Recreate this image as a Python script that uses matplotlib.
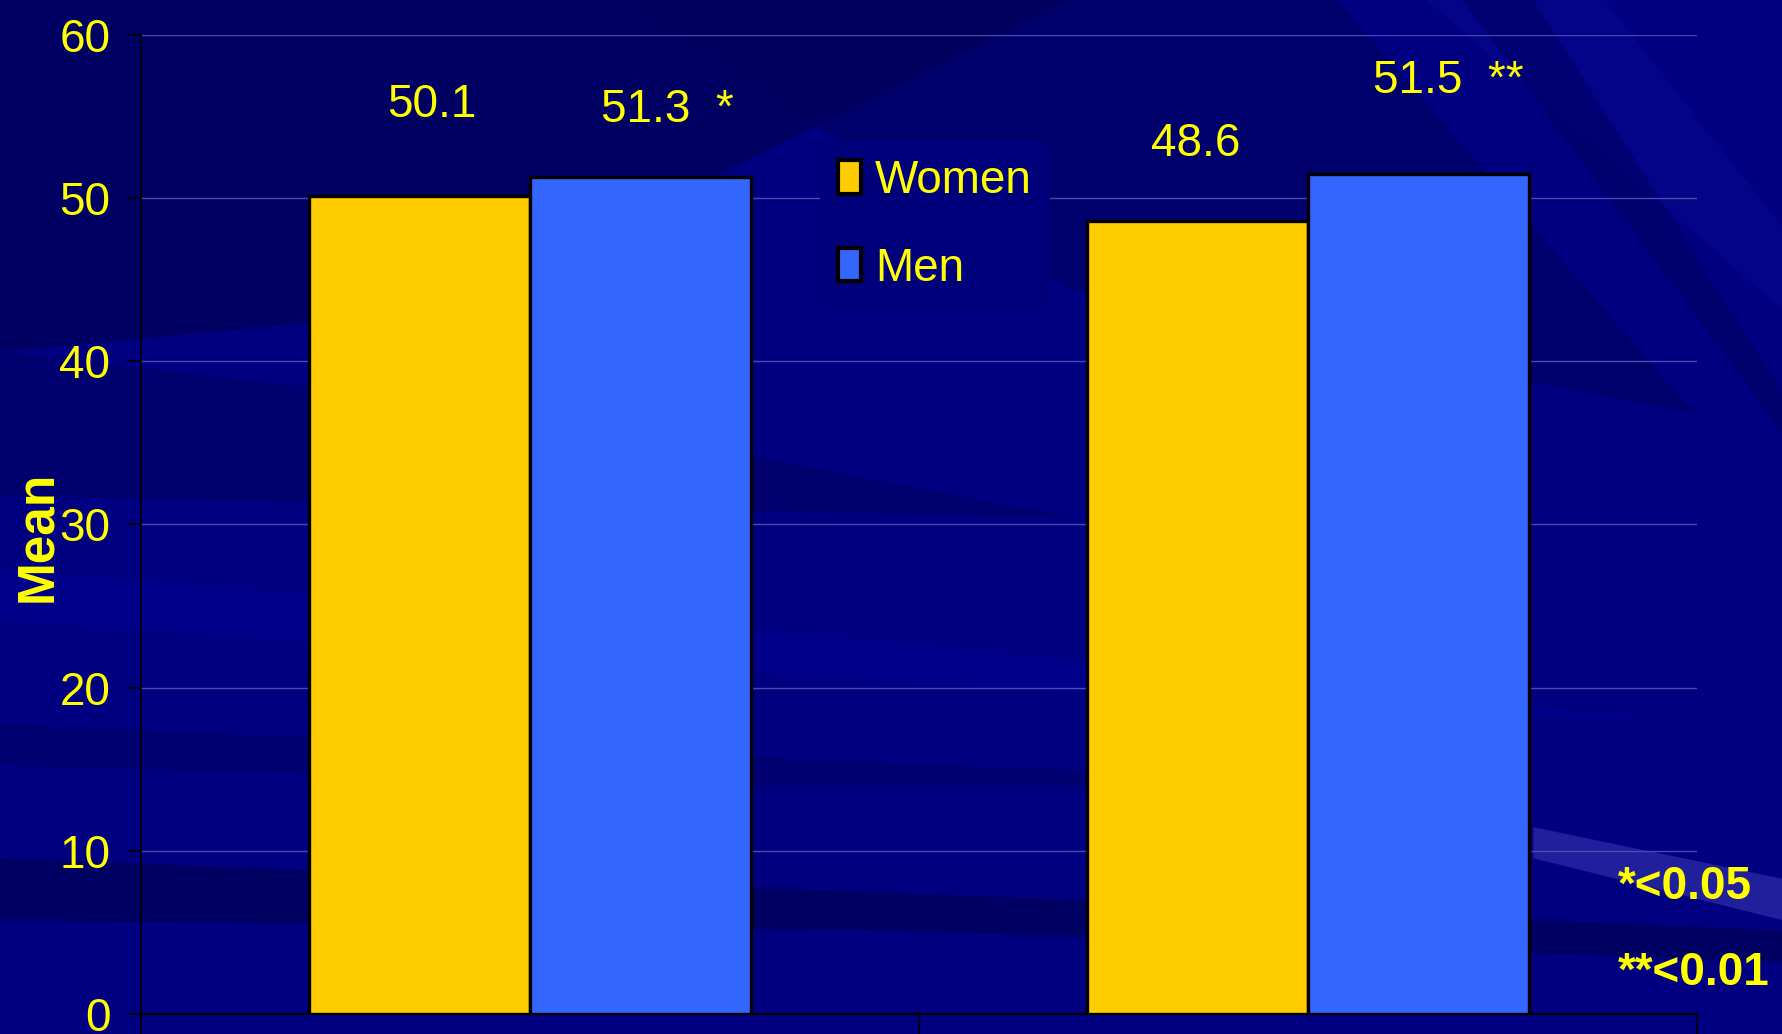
import matplotlib.pyplot as plt
import numpy as np
from matplotlib.patches import Polygon

plt.rcParams['font.family'] = ['Liberation Sans', 'DejaVu Sans']

series = ["Women", "Men"]
women = [50.1, 48.6]
men = [51.3, 51.5]
value_labels = [["50.1", "48.6"], ["51.3  *", "51.5  **"]]
y_ticks = [0, 10, 20, 30, 40, 50, 60]
notes = ["*<0.05", "**<0.01"]

YELLOW = "#FFFF00"
GOLD = "#FFCC00"
BLUE = "#3366FF"
NAVY = "#00007A"
FS = 33

fig = plt.figure(figsize=(17.83, 10.34), dpi=100)

# background with diagonal streaks
bg = fig.add_axes([0, 0, 1, 1], zorder=-10)
bg.set_xlim(0, 1)
bg.set_ylim(0, 1)
bg.axis("off")
bg.add_patch(Polygon([(0, 0), (1, 0), (1, 1), (0, 1)], color="#000080"))
streaks = [
    ([(0, 1), (0.6, 1), (0.25, 0.7), (0, 0.66)], "#000050", 0.6),
    ([(0.35, 1), (0.75, 1), (0.95, 0.6), (0.6, 0.72)], "#000058", 0.45),
    ([(0, 0.66), (0.3, 0.6), (0.6, 0.5), (0, 0.52)], "#000060", 0.5),
    ([(0.8, 1), (0.9, 1), (1, 0.78), (1, 0.7)], "#1010A0", 0.25),
    ([(0.82, 1), (0.86, 1), (1, 0.62), (1, 0.58)], "#000060", 0.5),
    ([(0, 0.45), (0.5, 0.38), (0.95, 0.3), (0.5, 0.34), (0, 0.4)], "#0000A0", 0.35),
    ([(0, 0.3), (0.4, 0.27), (0.8, 0.24), (0.4, 0.24), (0, 0.26)], "#000060", 0.45),
    ([(0, 0.17), (0.6, 0.13), (1, 0.1), (1, 0.07), (0.5, 0.1), (0, 0.11)], "#000050", 0.6),
    ([(0.86, 0.2), (1, 0.15), (1, 0.11), (0.86, 0.17)], "#4848C0", 0.45),
]
for pts, col, a in streaks:
    bg.add_patch(Polygon(pts, closed=True, color=col, alpha=a, lw=0))

ax = fig.add_axes([0.079, 0.0193, 0.873, 0.947])
ax.set_facecolor("none")

x = np.arange(len(women))
w = 0.284
b1 = ax.bar(x - w / 2, women, w, color=GOLD, edgecolor="black", linewidth=2.4, label=series[0], zorder=3)
b2 = ax.bar(x + w / 2, men, w, color=BLUE, edgecolor="black", linewidth=2.4, label=series[1], zorder=3)

# value labels (offsets)
offsets = [[(0.016, 5.6), (-0.003, 4.7)], [(0.034, 4.1), (0.038, 5.7)]]
for si, bars in enumerate([b1, b2]):
    for bi, bar in enumerate(bars):
        dx, dy = offsets[si][bi]
        ax.text(bar.get_x() + bar.get_width() / 2 + dx, bar.get_height() + dy,
                value_labels[si][bi], color=YELLOW, fontsize=FS,
                ha="center", va="center", zorder=5)

ax.set_xlim(-0.5, 1.5)
ax.set_ylim(0, 60)
ax.set_yticks(y_ticks)
ax.set_xticks([-0.5, 0.5, 1.5])
ax.set_xticklabels([])
ax.tick_params(axis="y", colors="black", labelcolor=YELLOW, labelsize=FS,
               length=10, width=1.2, pad=12)
ax.tick_params(axis="x", colors="black", length=30, width=1.2, direction="out")
ax.yaxis.grid(True, color="#4a4ab0", linewidth=1.0, zorder=0)
ax.set_axisbelow(True)
for s in ["top", "right"]:
    ax.spines[s].set_visible(False)
ax.spines["left"].set_color("black")
ax.spines["bottom"].set_color("black")
ax.spines["left"].set_linewidth(1.2)
ax.spines["bottom"].set_linewidth(1.6)

fig.text(0.021, 0.481, "Mean", rotation=90, color=YELLOW, fontsize=37,
         fontweight="bold", ha="center", va="center")

leg = fig.legend(handles=[b1, b2], labels=series, loc="upper left",
                 bbox_to_anchor=(0.447, 0.886), frameon=True,
                 fontsize=FS, handlelength=0.5, handleheight=0.74, handletextpad=0.3,
                 labelspacing=0.95, borderpad=0.4, labelcolor=YELLOW)
leg.get_frame().set_facecolor(NAVY)
leg.get_frame().set_edgecolor("none")
leg.get_frame().set_alpha(1)
for h in leg.legend_handles:
    h.set_edgecolor("black")
    h.set_linewidth(3)

fig.text(0.9075, 0.142, notes[0], color=YELLOW, fontsize=FS, fontweight="bold",
         ha="left", va="center")
fig.text(0.9075, 0.059, notes[1], color=YELLOW, fontsize=FS, fontweight="bold",
         ha="left", va="center")

fig.savefig("out.png", dpi=100)
